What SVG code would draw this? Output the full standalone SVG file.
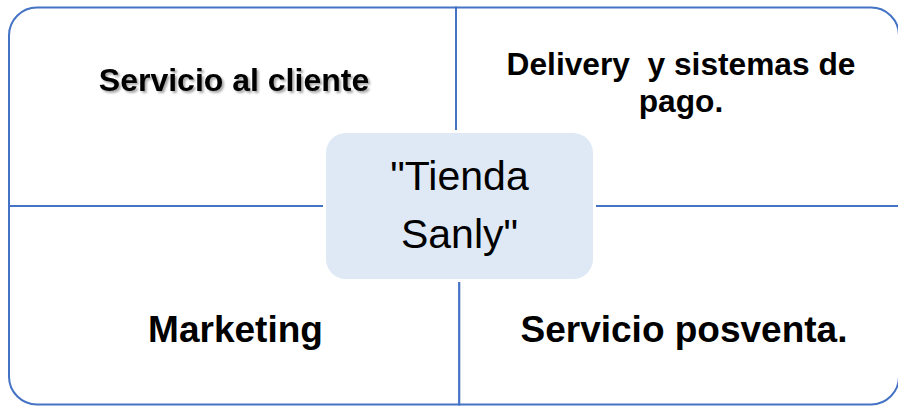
<svg xmlns="http://www.w3.org/2000/svg" width="898" height="406" viewBox="0 0 898 406">
  <defs>
    <style>
      .quad { fill: #ffffff; stroke: #4472C4; stroke-width: 2; }
      .lbl { font-family: "Liberation Sans", Arial, sans-serif; font-weight: bold; fill: #000000; text-anchor: middle; }
      .center-txt { font-family: "Liberation Sans", Arial, sans-serif; font-size: 41px; fill: #000000; text-anchor: middle; }
    </style>
    <filter id="shadow" x="-10%" y="-30%" width="120%" height="160%">
      <feDropShadow dx="2" dy="2" stdDeviation="1.3" flood-color="#000000" flood-opacity="0.35"/>
    </filter>
  </defs>
  <rect width="898" height="406" fill="#ffffff"/>

  <g id="servicio-cliente">
    <path class="quad" d="M 9 206 V 35.5 A 28 28 0 0 1 37 7.5 H 456 V 206 Z"/>
    <text class="lbl" x="234" y="91" font-size="32" filter="url(#shadow)">Servicio al cliente</text>
  </g>

  <g id="delivery">
    <path class="quad" d="M 456 7.5 H 871 A 28 28 0 0 1 899 35.5 V 206 H 456 Z"/>
    <text class="lbl" font-size="31.7" xml:space="preserve" style="white-space:pre"><tspan x="681" y="75">Delivery  y sistemas de</tspan><tspan x="681" y="112">pago.</tspan></text>
  </g>

  <g id="marketing">
    <path class="quad" d="M 9 206 H 459.3 V 404.5 H 37 A 28 28 0 0 1 9 376.5 Z"/>
    <text class="lbl" x="235.5" y="342" font-size="37">Marketing</text>
  </g>

  <g id="posventa">
    <path class="quad" d="M 459.3 206 H 899 V 376.5 A 28 28 0 0 1 871 404.5 H 459.3 Z"/>
    <text class="lbl" x="684" y="342" font-size="37">Servicio posventa.</text>
  </g>

  <g id="tienda-sanly">
    <rect x="323" y="130" width="273" height="152" rx="23" fill="#ffffff"/>
    <rect x="326" y="133" width="267" height="146" rx="20" fill="#DEE9F5"/>
    <text class="center-txt"><tspan x="459.5" y="190">"Tienda</tspan><tspan x="459.5" y="248">Sanly"</tspan></text>
  </g>
</svg>
